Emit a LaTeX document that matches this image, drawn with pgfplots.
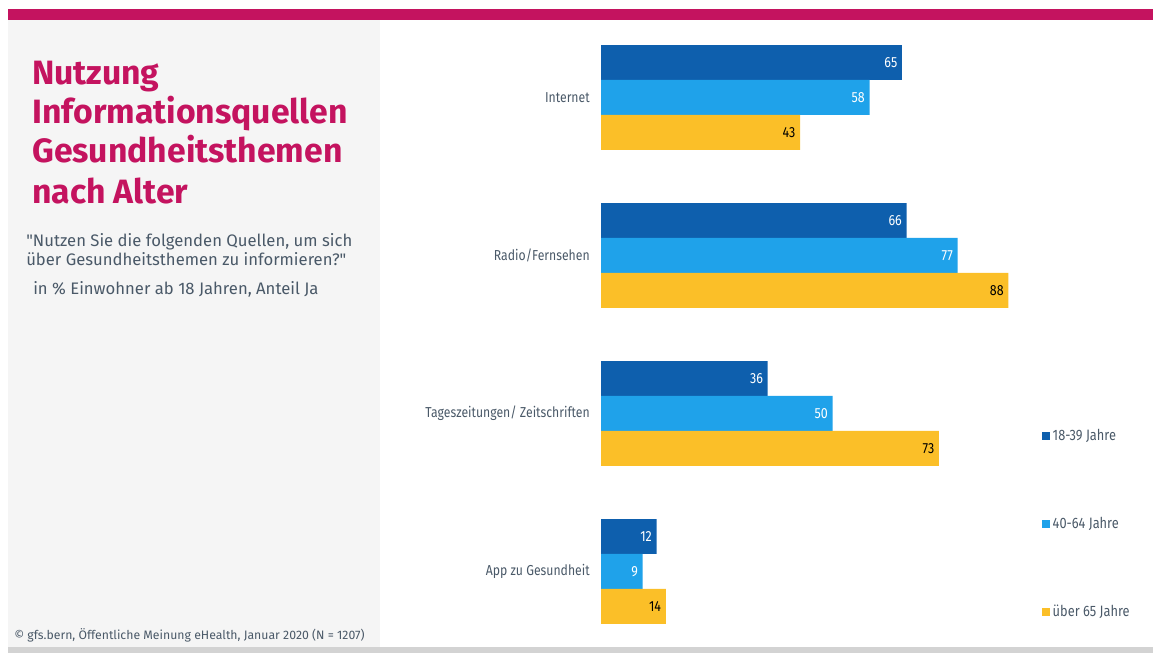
\documentclass[border=0pt]{standalone}
\usepackage{pgfplots}
\pgfplotsset{compat=1.18}
\usepackage{fontspec}
\setmainfont{Fira Sans}
\newfontfamily\cond[FakeStretch=0.85]{Fira Sans}
\newfontfamily\nq[Ligatures=ResetAll]{Fira Sans}
\definecolor{mag}{HTML}{C4135F}
\definecolor{panel}{HTML}{F5F5F5}
\definecolor{botline}{HTML}{D3D3D3}
\definecolor{txt}{HTML}{4A5968}
\definecolor{dblue}{HTML}{0E5FAD}
\definecolor{lblue}{HTML}{1FA2EA}
\definecolor{yel}{HTML}{FBBF28}
\newcommand{\dq}{{\nq\symbol{34}}}
\begin{document}
\begin{tikzpicture}
\useasboundingbox (0,0) rectangle (864.75pt,489.75pt);
\begin{scope}[x=0.75pt,y=-0.75pt,yshift=489.75pt]
\fill[mag] (8,9) rectangle (1153,20);
\fill[panel] (8,20) rectangle (380,647);
\fill[botline] (8,647) rectangle (1153,653);
\begin{scope}[every node/.style={anchor=base west,inner sep=0pt,text=mag,font=\fontsize{25.3}{30}\selectfont\bfseries}]
\node at (32,85) {Nutzung};
\node at (32,124) {Informationsquellen};
\node at (32,163) {Gesundheitsthemen};
\node at (32,204) {nach Alter};
\end{scope}
\begin{scope}[every node/.style={anchor=base west,inner sep=0pt,text=txt,font=\fontsize{12.5}{15}\selectfont}]
\node at (26,247) {\dq Nutzen Sie die folgenden Quellen, um sich};
\node at (26,266) {über Gesundheitsthemen zu informieren?\dq};
\node at (33,295) {in \% Einwohner ab 18 Jahren, Anteil Ja};
\end{scope}
\node[anchor=base west,inner sep=0pt,text=txt,font=\fontsize{9.2}{11}\selectfont] at (14,640) {© gfs.bern, Öffentliche Meinung eHealth, Januar 2020 (N = 1207)};
\end{scope}
\begin{axis}[
  at={(450.75pt,21.75pt)}, anchor=south west,
  scale only axis, width=347.25pt, height=434.25pt,
  xmin=0, xmax=100, ymin=-0.3323, ymax=3.3323,
  axis line style={draw=none},
  xtick=\empty,
  ytick={0,1,2,3},
  yticklabels={App zu Gesundheit,Tageszeitungen/ Zeitschriften,Radio/Fernsehen,Internet},
  major tick length=0pt,
  yticklabel style={font=\cond\fontsize{10.8}{13}\selectfont, text=txt, inner xsep=0pt, xshift=-8.25pt},
  xbar, bar width=0.2215,
  nodes near coords={\pgfmathprintnumber[assume math mode=true]{\pgfplotspointmeta}},
  every node near coord/.append style={anchor=east, font=\cond\fontsize{11}{13}\selectfont},
  legend style={at={(0.952,0.342)}, anchor=north west, draw=none, fill=none,
    font=\cond\fontsize{11.3}{13}\selectfont, text=txt, row sep=52.2pt, inner sep=0pt},
  legend cell align=left,
  legend image code/.code={\fill[#1,draw=none] (0pt,-3pt) rectangle (6pt,3pt);},
]
\addplot[fill=dblue, draw=none, bar shift=0.2215, every node near coord/.append style={text=white}]
  coordinates {(65,3) (66,2) (36,1) (12,0)};
\addplot[fill=lblue, draw=none, bar shift=0, every node near coord/.append style={text=white}]
  coordinates {(58,3) (77,2) (50,1) (9,0)};
\addplot[fill=yel, draw=none, bar shift=-0.2215, every node near coord/.append style={text=black}]
  coordinates {(43,3) (88,2) (73,1) (14,0)};
\legend{18-39 Jahre,40-64 Jahre,über 65 Jahre}
\end{axis}
\end{tikzpicture}
\end{document}
